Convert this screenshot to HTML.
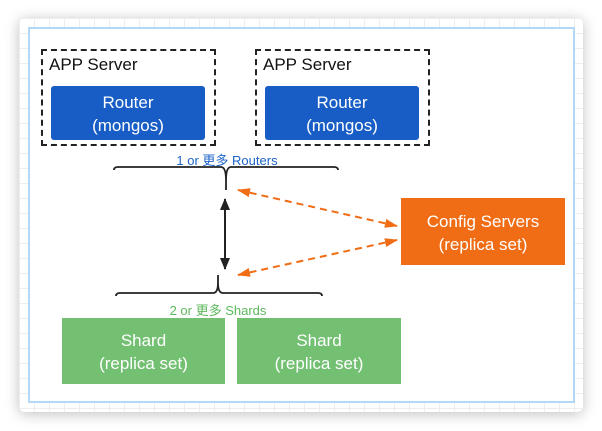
<!DOCTYPE html>
<html><head><meta charset="utf-8"><style>
body{margin:0;width:602px;height:431px;background:#fff;position:relative;overflow:hidden;font-family:"Liberation Sans","Noto Sans CJK SC",sans-serif}
.card{position:absolute;left:19px;top:18px;width:564px;height:394px;border-radius:6px;box-shadow:0 2px 14px rgba(0,0,0,.25);
background-color:#fff;background-image:linear-gradient(#eee 1px,transparent 1px),linear-gradient(90deg,#eee 1px,transparent 1px);background-size:15px 15px}
.inner{position:absolute;left:28px;top:27px;width:543px;height:372px;border:2px solid #b3d7f7;background:#fff}
.box{position:absolute;color:#fff;text-align:center;font-size:17px;line-height:23px;display:flex;align-items:center;justify-content:center;padding-top:2px;box-sizing:border-box}
.dash{position:absolute;border:2px dashed #222;box-sizing:border-box}
.lbl{position:absolute;font-size:17px;color:#111}
.sm{position:absolute;font-size:13px;text-align:center;width:200px}
</style></head><body>
<div class="card"></div>
<div class="inner"></div>
<div class="dash" style="left:41px;top:49px;width:175px;height:97px"></div>
<div class="lbl" style="left:49px;top:55px">APP Server</div>
<div class="box" style="left:51px;top:86px;width:154px;height:54px;background:#175dc5;border-radius:3px">Router<br>(mongos)</div>
<div class="dash" style="left:255px;top:49px;width:175px;height:97px"></div>
<div class="lbl" style="left:263px;top:55px">APP Server</div>
<div class="box" style="left:265px;top:86px;width:154px;height:54px;background:#175dc5;border-radius:3px">Router<br>(mongos)</div>
<div class="sm" style="left:127px;top:150px;color:#1d63c9">1 or 更多 Routers</div>
<div class="sm" style="left:118px;top:300px;color:#5cb85c">2 or 更多 Shards</div>
<div class="box" style="left:401px;top:198px;width:164px;height:67px;background:#f06c15">Config Servers<br>(replica set)</div>
<div class="box" style="left:62px;top:318px;width:163px;height:66px;background:#73c073">Shard<br>(replica set)</div>
<div class="box" style="left:237px;top:318px;width:164px;height:66px;background:#73c073">Shard<br>(replica set)</div>
<svg width="602" height="431" style="position:absolute;left:0;top:0">
<defs>
<marker id="a" markerWidth="12" markerHeight="10" refX="11" refY="5" orient="auto-start-reverse" markerUnits="userSpaceOnUse"><path d="M0,0 L12,5 L0,10 z" fill="#222"/></marker>
<marker id="o" markerWidth="13" markerHeight="9" refX="12" refY="4.5" orient="auto-start-reverse" markerUnits="userSpaceOnUse"><path d="M0,0 L13,4.5 L0,9 z" fill="#f06c15"/></marker>
</defs>
<path d="M114,170 Q114,167 118,167 L221,167 Q226,167 226,180 L226,190 M226,180 Q226,167 231,167 L334,167 Q338,167 338,170" fill="none" stroke="#222" stroke-width="1.8"/>
<path d="M116,296 Q116,293 120,293 L213,293 Q218,293 218,283 L218,275 M218,283 Q218,293 223,293 L318,293 Q322,293 322,296" fill="none" stroke="#222" stroke-width="1.8"/>
<line x1="225" y1="199" x2="225" y2="269" stroke="#222" stroke-width="2" marker-start="url(#a)" marker-end="url(#a)"/>
<line x1="238" y1="190" x2="397" y2="226" stroke="#f06c15" stroke-width="2" stroke-dasharray="7,5" marker-start="url(#o)" marker-end="url(#o)"/>
<line x1="397" y1="240" x2="238" y2="275" stroke="#f06c15" stroke-width="2" stroke-dasharray="7,5" marker-start="url(#o)" marker-end="url(#o)"/>
</svg>
</body></html>
